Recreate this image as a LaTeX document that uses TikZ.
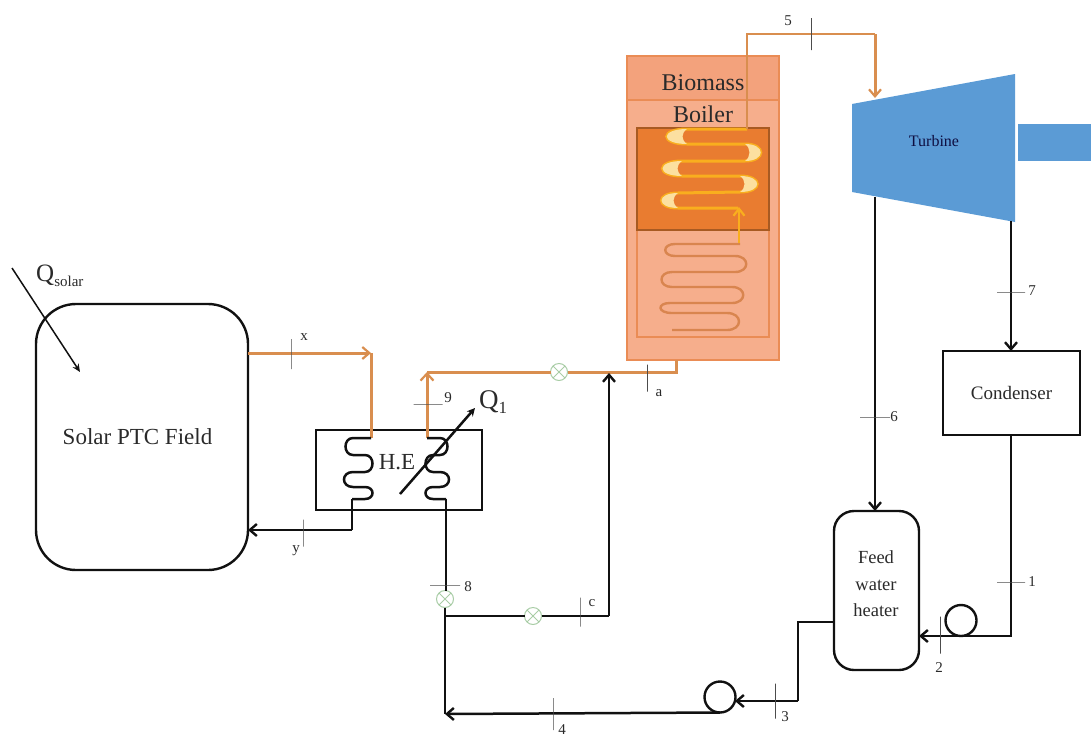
\documentclass[tikz,border=0pt]{standalone}
\usepackage{fontspec}
\setmainfont{Liberation Serif}
\usetikzlibrary{arrows.meta,calc}
\definecolor{pipeor}{HTML}{D98E4F}
\definecolor{boilfill}{HTML}{F6AE8C}
\definecolor{boilhead}{HTML}{F3A27C}
\definecolor{boiledge}{HTML}{EA8C55}
\definecolor{hotzone}{HTML}{E97C30}
\definecolor{hotedge}{HTML}{A85A22}
\definecolor{coilhot}{HTML}{F9AE1E}
\definecolor{coilblob}{HTML}{FCE0A0}
\definecolor{coilcold}{HTML}{D9854F}
\definecolor{turb}{HTML}{5B9BD5}
\definecolor{valvegr}{HTML}{A9CDA6}
\definecolor{ink}{HTML}{111111}
\definecolor{txt}{HTML}{2A2A2A}
\newcommand{\fs}[1]{\fontsize{#1}{#1}\selectfont}
\tikzset{
  boxnode/.style={draw=ink,line width=2.4pt,inner sep=0pt,outer sep=0pt,align=center,text=txt},
  blackpipe/.style={draw=ink,line width=2.5pt},
  orpipe/.style={draw=pipeor,line width=3pt},
  tipk/.style={-{Straight Barb[length=7pt,width=12pt,line width=2.4pt]}},
  valve/.style={circle,draw=valvegr,line width=1pt,fill=white,minimum size=17pt,inner sep=0pt,outer sep=0pt,
    path picture={\draw[valvegr,line width=.9pt]
      (path picture bounding box.center) ++(-6,-6) -- ++(12,12)
      (path picture bounding box.center) ++(-6,6) -- ++(12,-12);}},
  pumpnode/.style={draw=ink,line width=2.4pt,circle,minimum size=31pt,inner sep=0pt,outer sep=0pt},
  vtick/.style={draw=ink!75,line width=1pt,inner sep=0pt,outer sep=0pt,minimum width=0pt,minimum height=#1,rectangle},
  htick/.style={draw=ink!75,line width=1pt,inner sep=0pt,outer sep=0pt,minimum height=0pt,minimum width=#1,rectangle},
  lab/.style={text=txt,inner sep=0pt,font=\fs{15}},
  hotcoil/.style={draw=coilhot,line width=3pt},
  coldcoil/.style={draw=coilcold,line width=2.4pt},
}
\begin{document}
\begin{tikzpicture}[x=1pt,y=-1pt]
\useasboundingbox (0,0) rectangle (1091,736);
% Boiler
\node[draw=boiledge,line width=2.6pt,fill=boilfill,minimum width=152pt,minimum height=304pt,inner sep=0pt,outer sep=0pt] (boiler) at (703,208) {};
\node[draw=boiledge,line width=2.4pt,fill=boilhead,minimum width=152pt,minimum height=44pt,inner sep=0pt,outer sep=0pt] (header) at (703,78) {};
\node[draw=boiledge,line width=2pt,minimum width=132pt,minimum height=107pt,inner sep=0pt,outer sep=0pt] (lower) at (703,283.5) {};
\node[draw=hotedge,line width=2pt,fill=hotzone,minimum width=132pt,minimum height=102pt,inner sep=0pt,outer sep=0pt] (hot) at (703,179) {};
\node[text=txt,inner sep=0pt,font=\fs{24}] (biomass) at (703,83) {Biomass};
\node[text=txt,inner sep=0pt,font=\fs{24}] (boilertxt) at (703,114) {Boiler};
% hot coil
\path[hotcoil] (747,129) -- (687,129) .. controls (660,129) and (660,144) .. (687,144)
  -- (745,144) .. controls (766,144) and (766,161) .. (745,161)
  -- (682,161) .. controls (656,161) and (656,176) .. (682,176)
  -- (740,176) .. controls (763,176) and (763,192) .. (740,192)
  -- (678,193) .. controls (656,193) and (656,208) .. (678,208) -- (738,208);
\fill[coilblob] (687,129) .. controls (660,129) and (660,144) .. (687,144) .. controls (681,140) and (681,133) .. (687,129) -- cycle;
\fill[coilblob] (745,144) .. controls (766,144) and (766,161) .. (745,161) .. controls (751,157) and (751,148) .. (745,144) -- cycle;
\fill[coilblob] (682,161) .. controls (656,161) and (656,176) .. (682,176) .. controls (676,172) and (676,165) .. (682,161) -- cycle;
\fill[coilblob] (740,176) .. controls (763,176) and (763,192) .. (740,192) .. controls (746,188) and (746,180) .. (740,176) -- cycle;
\fill[coilblob] (678,193) .. controls (656,193) and (656,208) .. (678,208) .. controls (672,204) and (672,197) .. (678,193) -- cycle;
\path[coldcoil] (740,244) -- (675,244) .. controls (662,244) and (662,256) .. (675,256)
  -- (735,256) .. controls (750,256) and (750,272) .. (735,272)
  -- (672,272) .. controls (658,272) and (658,287) .. (672,287)
  -- (732,287) .. controls (747,287) and (747,303) .. (732,303)
  -- (670,303) .. controls (657,303) and (657,313) .. (672,313)
  -- (727,313) .. controls (743,313) and (743,330) .. (727,330) -- (672,330);
\coordinate (coilb) at (739,243);
\coordinate (coilt) at (739,207);
\draw[draw=coilhot,line width=2.6pt,-{Straight Barb[length=7pt,width=11pt,line width=2.2pt]}] (coilb) -- (coilt);
% Turbine
\fill[turb] (852,104) -- (1015,74) -- (1015,222) -- (852,192) -- cycle;
\node[fill=turb,minimum width=73pt,minimum height=37pt,inner sep=0pt,outer sep=0pt] (shaft) at (1054.5,142.5) {};
\node[text=ink!80!blue,inner sep=0pt,font=\fs{16}] (turbine) at (934,141) {Turbine};
\coordinate (t5) at (875,98);
\coordinate (t6) at (875,197);
\coordinate (t7) at (1011,221);
% Boxes
\node[boxnode,rounded corners=40pt,minimum width=212pt,minimum height=266pt] (solar) at (142,437) {};
\node[text=txt,inner sep=0pt,font=\fs{23}] (solartxt) at (137.5,437) {Solar PTC Field};
\node[boxnode,minimum width=166pt,minimum height=80pt] (he) at (399,470) {};
\node[text=txt,inner sep=0pt,font=\fs{23}] (hetxt) at (397,462) {H.E};
\node[boxnode,minimum width=137pt,minimum height=84pt,font=\fs{19}] (cond) at (1011.5,393) {Condenser};
\node[boxnode,rounded corners=20pt,minimum width=85pt,minimum height=159pt] (fwh) at (876.5,590.5) {};
\node[text=txt,inner sep=0pt,align=center,font=\fs{18.5}] (fwhtxt) at (876,584) {Feed\\[8pt]water\\[8pt]heater};
% Valves and pumps
\node[valve] (v9) at (559,372) {};
\node[valve] (v8) at (445,599) {};
\node[valve] (vc) at (533,616) {};
\node[pumpnode] (p1) at (961,620.5) {};
\node[pumpnode] (p2) at (720,697) {};
% Coordinates
\coordinate (xa) at (248,353);
\coordinate (xb) at (371,353);
\coordinate (xc) at (371,438);
\coordinate (yb) at (352,530);
\coordinate (ya) at (248,530);
\coordinate (nine) at (427,438);
\coordinate (ninet) at (427,372);
\coordinate (acorner) at (676,372);
\coordinate (bb) at (676,360);
\coordinate (jc) at (609,616);
\coordinate (jt) at (609,373);
\coordinate (j8) at (445,616);
\coordinate (jb) at (445,714);
\coordinate (cb) at (1011,636);
\coordinate (fin) at (919,636);
\coordinate (fo) at (834,622);
\coordinate (fo2) at (798,622);
\coordinate (fo3) at (798,701);
\coordinate (p2in) at (735,701);
\coordinate (hl) at (352,499);
\coordinate (hr) at (446,499);
\coordinate (s5a) at (747,129);
\coordinate (s5b) at (747,34);
\coordinate (s5c) at (875,34);
% Orange pipes
\draw[orpipe] (xb) -- (xc);
\draw[orpipe,-{Straight Barb[length=7pt,width=12pt,line width=2.2pt]}] (xa) -- (xb);
\draw[orpipe,-{Straight Barb[length=7pt,width=13pt,line width=2.2pt]}] (nine) -- (ninet);
\draw[orpipe] (ninet) -- (v9);
\draw[orpipe] (v9) -- (acorner) -- (bb);
\draw[orpipe,line width=2.4pt] (s5a) -- (s5b) -- (s5c);
\draw[orpipe,-{Straight Barb[length=7pt,width=12pt,line width=2.2pt]}] (s5c) -- (t5);
% HE coils
\draw[blackpipe] (xc) -- (353,438) .. controls (343,438) and (343,455) .. (353,455)
  -- (365,455) .. controls (375,455) and (375,472) .. (365,472)
  -- (353,472) .. controls (341,472) and (341,487) .. (353,487)
  -- (365,487) .. controls (375,487) and (375,499) .. (365,499) -- (hl);
\draw[blackpipe] (nine) -- (440,438) .. controls (450,438) and (450,455) .. (440,455)
  -- (433,455) .. controls (423,455) and (423,472) .. (433,472)
  -- (440,472) .. controls (452,472) and (452,487) .. (440,487)
  -- (433,487) .. controls (423,487) and (423,499) .. (433,499) -- (hr);
% Black pipes
\draw[blackpipe] (hl) -- (yb);
\draw[blackpipe,tipk] (yb) -- (ya);
\draw[blackpipe] (hr) -- (hr |- v8.north);
\draw[blackpipe] (v8) -- (jb);
\draw[blackpipe] (j8) -- (vc);
\draw[blackpipe] (vc) -- (jc);
\draw[blackpipe,tipk] (jc) -- (jt);
\draw[blackpipe,tipk] (t6) -- (fwh.north -| t6);
\draw[blackpipe,tipk] (t7) -- (cond.north -| t7);
\draw[blackpipe] (cond.south -| cb) -- (cb) -- (p1.south);
\draw[blackpipe,tipk] (p1.south) -- (fin);
\draw[blackpipe] (fo) -- (fo2) -- (fo3);
\draw[blackpipe,tipk] (fo3) -- (p2in);
\draw[blackpipe,tipk] (p2.south) -- (jb);
% Q arrows
\coordinate (q1a) at (400,494);
\coordinate (q1b) at (475,408);
\draw[ink,line width=2.5pt,-{Stealth[length=8pt,width=8pt]}] (q1a) -- (q1b);
\coordinate (qsa) at (12,268);
\coordinate (qsb) at (80,372);
\draw[ink,line width=1.5pt,-{Stealth[length=8pt,width=7pt]}] (qsa) -- (qsb);
\node[anchor=west,text=txt,inner sep=0pt,font=\fs{27}] (q1) at (479,402) {Q\raisebox{-5pt}{\fs{17}1}};
\node[anchor=west,text=txt,inner sep=0pt,font=\fs{25}] (qs) at (36,276) {Q\raisebox{-5pt}{\fs{15}solar}};
% Ticks and labels
\node[vtick=30pt] (tx) at (291,354) {};
\node[lab] (lx) at (304,337) {x};
\node[vtick=27pt] (ty) at (303,533) {};
\node[lab] (ly) at (296,551) {y};
\node[htick=29pt] (t9) at (428,404) {};
\node[lab] (l9) at (448,398) {9};
\node[htick=30pt] (t8) at (445,585) {};
\node[lab] (l8) at (468,587) {8};
\node[vtick=29pt] (tc) at (580,612) {};
\node[lab] (lc) at (592,603) {c};
\node[vtick=27pt] (ta) at (647,378) {};
\node[lab] (la) at (659,393) {a};
\node[vtick=32pt] (t5m) at (811,34) {};
\node[lab] (l5) at (788,21) {5};
\node[htick=30pt] (t6m) at (875,417) {};
\node[lab] (l6) at (894,417) {6};
\node[htick=28pt] (t7m) at (1011,292) {};
\node[lab] (l7) at (1032,291) {7};
\node[htick=28pt] (t1m) at (1011,582) {};
\node[lab] (l1) at (1032,582) {1};
\node[vtick=37pt] (t2m) at (940,635) {};
\node[lab] (l2) at (939,668) {2};
\node[vtick=35pt] (t3m) at (775,701) {};
\node[lab] (l3) at (785,717) {3};
\node[vtick=32pt] (t4m) at (553,714) {};
\node[lab] (l4) at (562,730) {4};
\end{tikzpicture}
\end{document}
